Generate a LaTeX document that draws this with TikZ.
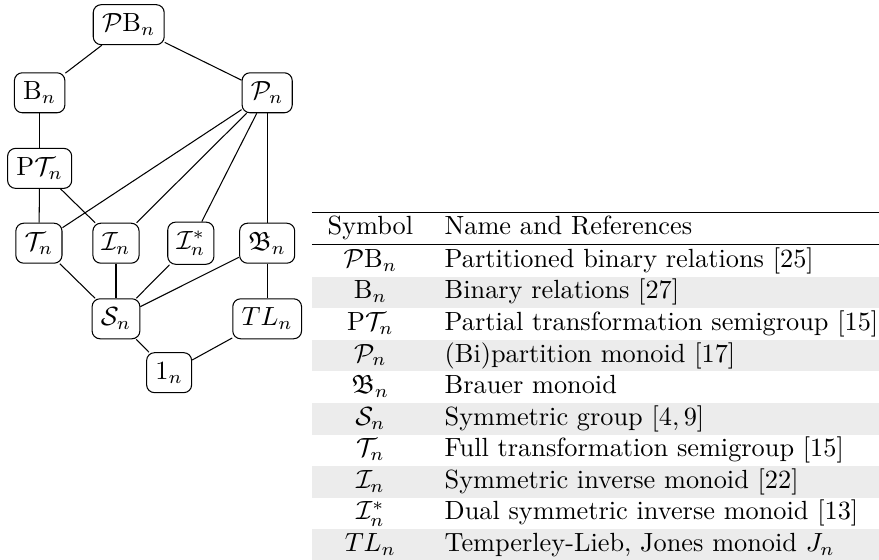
\documentclass[tikz,border=0pt]{standalone}
\usepackage{amssymb}
\usepackage{colortbl}
\newcommand*{\picwd}{334.2pt}
\newcommand*{\picht}{212.9pt}
\newcommand*{\rowgray}{\rowcolor{gray!15}}

\begin{document}
\begin{tikzpicture}[semigroup/.style={draw, rounded corners=3pt, minimum height=15.2pt}]
    \useasboundingbox (0,0) rectangle (\picwd,-\picht);
    % lattice of monoids
    \node [semigroup] (PBn) at (1.72,-0.33) {$\mathcal{P}\mathrm{B}_n$};
    \node [semigroup] (Bn)  at (0.53,-1.24) {$\mathrm{B}_n$};
    \node [semigroup] (Pn)  at (3.57,-1.24) {$\mathcal{P}_n$};
    \node [semigroup] (PTn) at (0.53,-2.25) {$\mathrm{P}\mathcal{T}_n$};
    \node [semigroup] (Tn)  at (0.52,-3.25) {$\mathcal{T}_n$};
    \node [semigroup] (In)  at (1.55,-3.25) {$\mathcal{I}_n$};
    \node [semigroup] (Isn) at (2.55,-3.25) {$\mathcal{I}^*_n$};
    \node [semigroup] (Brn) at (3.57,-3.25) {$\mathfrak{B}_n$};
    \node [semigroup] (Sn)  at (1.55,-4.26) {$\mathcal{S}_n$};
    \node [semigroup] (TLn) at (3.57,-4.26) {$TL_n$};
    \node [semigroup] (1n)  at (2.26,-4.98) {$1_n$};
    \draw (PBn) -- (Bn);
    \draw (PBn) -- (Pn);
    \draw (Bn)  -- (PTn);
    \draw (PTn) -- (Tn);
    \draw (PTn) -- (In);
    \draw (Pn)  -- (Tn);
    \draw (Pn)  -- (In);
    \draw (Pn)  -- (Isn);
    \draw (Pn)  -- (Brn);
    \draw (Tn)  -- (Sn);
    \draw (In)  -- (Sn);
    \draw (Isn) -- (Sn);
    \draw (Brn) -- (Sn);
    \draw (Brn) -- (TLn);
    \draw (Sn)  -- (1n);
    \draw (TLn) -- (1n);
    % table of names
    \node [anchor=north west, inner sep=0pt] (names) at (4.16,-2.82) {%
        \begin{tabular}{cl}
            \hline
            Symbol & Name and References \\
            \hline
            $\mathcal{P}\mathrm{B}_n$ & Partitioned binary relations [25] \\
            \rowgray $\mathrm{B}_n$ & Binary relations [27] \\
            $\mathrm{P}\mathcal{T}_n$ & Partial transformation semigroup [15] \\
            \rowgray $\mathcal{P}_n$ & (Bi)partition monoid [17] \\
            $\mathfrak{B}_n$ & Brauer monoid \\
            \rowgray $\mathcal{S}_n$ & Symmetric group $[4,9]$ \\
            $\mathcal{T}_n$ & Full transformation semigroup [15] \\
            \rowgray $\mathcal{I}_n$ & Symmetric inverse monoid [22] \\
            $\mathcal{I}^*_n$ & Dual symmetric inverse monoid [13] \\
            \rowgray $TL_n$ & Temperley-Lieb, Jones monoid $J_n$ \\
        \end{tabular}};
\end{tikzpicture}
\end{document}
